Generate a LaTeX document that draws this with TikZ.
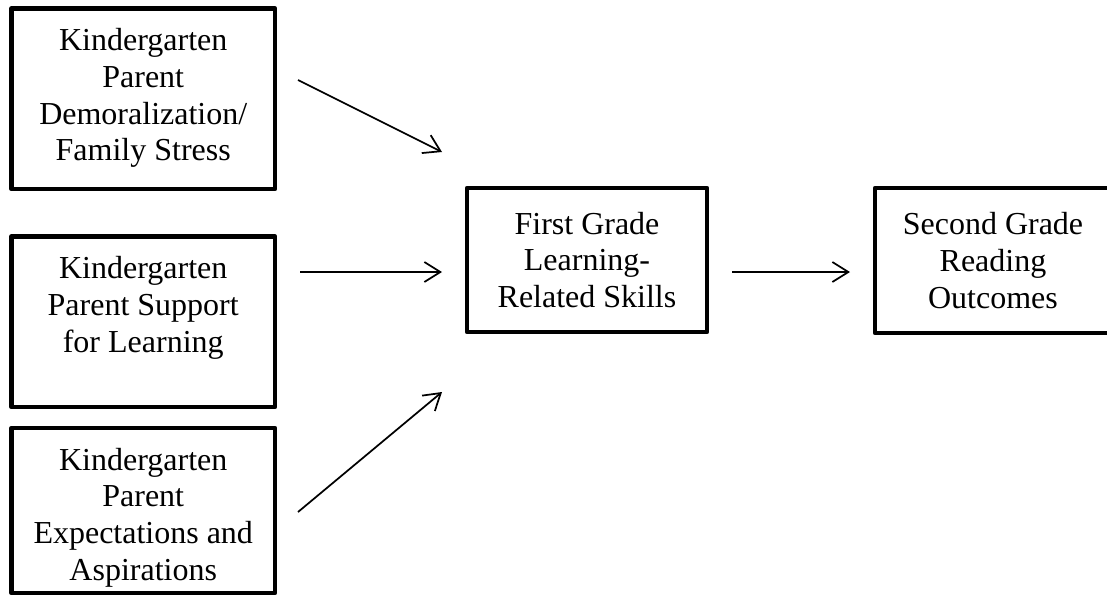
\documentclass[tikz,border=0pt]{standalone}
\usepackage{fontspec}
\setmainfont{Liberation Serif}
\usetikzlibrary{arrows.meta}

\begin{document}
\begin{tikzpicture}[x=0.75pt,y=-0.75pt,
  box/.style={draw,line width=3.3pt,line join=round,align=center,inner sep=0pt,
    font=\fontsize{24}{27.6}\selectfont},
  kbox/.style 2 args={box,minimum width=197.6pt,text height=#1,text depth=#2},
  link/.style={-{Straight Barb[length=12pt,width=15pt]},line width=1.3pt}]
  \useasboundingbox (0,0) rectangle (1107,597);
  % kindergarten factors (text hangs from the top)
  \node[kbox={114.3pt}{21.1pt}] (demor) at (143.25,98.75)
    {Kindergarten\\Parent\\Demoralization/\\Family Stress};
  \node[kbox={86.7pt}{41.2pt}] (support) at (143.25,321.75)
    {Kindergarten\\Parent Support\\for Learning};
  \node[kbox={114.3pt}{9.45pt}] (expect) at (143.25,510.5)
    {Kindergarten\\Parent\\Expectations and\\Aspirations};
  % first and second grade
  \node[box,minimum width=180pt,minimum height=108pt] (skills) at (587,260)
    {First Grade\\Learning-\\Related Skills};
  \node[box,minimum width=177pt,minimum height=108.8pt] (reading) at (993,260.5)
    {Second Grade\\Reading\\Outcomes};
  % free arrow ends
  \coordinate (d0) at (298,80);   \coordinate (d1) at (442,152);
  \coordinate (s0) at (300,272);  \coordinate (s1) at (442,272);
  \coordinate (e0) at (298,512);  \coordinate (e1) at (442,392);
  \coordinate (r0) at (732,272);  \coordinate (r1) at (850,272);
  \foreach \a in {d,s,e,r} { \draw[link] (\a0) -- (\a1); }
\end{tikzpicture}
\end{document}
